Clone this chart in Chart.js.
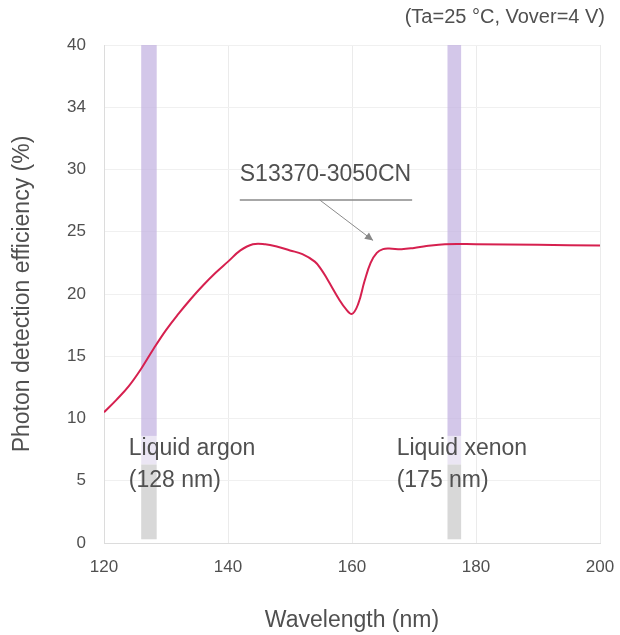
<!DOCTYPE html>
<html>
<head>
<meta charset="utf-8">
<script src="https://cdn.jsdelivr.net/npm/chart.js@4"></script>
<style>
  html, body { margin: 0; padding: 0; background: #fff; }
  #wrap { width: 620px; height: 635px; }
</style>
</head>
<body>
<div id="wrap"><canvas id="pdeChart" width="620" height="635"></canvas></div>
<script>
// wavelength (nm) and photon detection efficiency (%)
const wavelengths = [120, 122, 124, 126, 128, 130, 132, 134, 136, 138, 140, 142, 144, 146, 148, 150,
    152, 154, 155, 156, 158, 159, 160, 161, 162, 163, 164, 165, 166, 168, 170, 172, 175, 180, 190, 200];
const pdeValues = [10.5, 11.5, 12.6, 14.0, 15.6, 17.1, 18.4, 19.6, 20.7, 21.7, 22.6, 23.5, 24.0, 24.0, 23.8, 23.5,
    23.2, 22.6, 22.0, 21.2, 19.5, 18.8, 18.4, 19.2, 21.0, 22.5, 23.3, 23.6, 23.65, 23.6, 23.7, 23.85, 24.0, 24.0, 23.95, 23.9];

const yTickValues = [0, 5, 10, 15, 20, 25, 30, 35, 40];
const yTickLabels = ['0', '5', '10', '15', '20', '25', '30', '34', '40'];
const xTickValues = [120, 140, 160, 180, 200];

// scintillation bands: [from nm, to nm]
const bandRanges = [[126.0, 128.5], [175.4, 177.6]];
const bandLabels = [['Liquid argon', '(128 nm)'], ['Liquid xenon', '(175 nm)']];
const bandLabelX = [124, 167.2];
const bandLabelY = [7.6, 5.0];

const partName = 'S13370-3050CN';
const conditions = '(Ta=25 °C, Vover=4 V)';

const FONT = '"Liberation Sans", Arial, sans-serif';
const TEXT_COLOR = '#505050';

const decorations = {
    id: 'decorations',
    beforeDatasetsDraw(chart) {
        const { ctx, scales: { x, y } } = chart;
        ctx.save();
        bandRanges.forEach(r => {
            const x0 = x.getPixelForValue(r[0]);
            const x1 = x.getPixelForValue(r[1]);
            ctx.fillStyle = 'rgba(196,180,226,0.75)';
            ctx.fillRect(x0, y.getPixelForValue(40), x1 - x0, y.getPixelForValue(8.6) - y.getPixelForValue(40));
            ctx.fillStyle = 'rgba(222,214,236,0.6)';
            ctx.fillRect(x0, y.getPixelForValue(8.6), x1 - x0, y.getPixelForValue(6.3) - y.getPixelForValue(8.6));
            ctx.fillStyle = 'rgba(200,200,200,0.7)';
            ctx.fillRect(x0, y.getPixelForValue(6.3), x1 - x0, y.getPixelForValue(0.3) - y.getPixelForValue(6.3));
        });

        ctx.fillStyle = TEXT_COLOR;
        ctx.font = '23px ' + FONT;
        ctx.textBaseline = 'middle';
        ctx.textAlign = 'left';
        bandLabels.forEach((lines, i) => {
            ctx.fillText(lines[0], x.getPixelForValue(bandLabelX[i]), y.getPixelForValue(bandLabelY[0]));
            ctx.fillText(lines[1], x.getPixelForValue(bandLabelX[i]), y.getPixelForValue(bandLabelY[1]));
        });

        // part number with underline and leader
        ctx.font = '23px ' + FONT;
        ctx.fillText(partName, x.getPixelForValue(141.9), y.getPixelForValue(29.6));
        ctx.strokeStyle = '#8a8a8a';
        ctx.lineWidth = 1.5;
        ctx.beginPath();
        ctx.moveTo(x.getPixelForValue(141.9), y.getPixelForValue(27.55));
        ctx.lineTo(x.getPixelForValue(169.7), y.getPixelForValue(27.55));
        ctx.stroke();

        const ax0 = x.getPixelForValue(154.8), ay0 = y.getPixelForValue(27.55);
        const ax1 = x.getPixelForValue(163.4), ay1 = y.getPixelForValue(24.3);
        ctx.lineWidth = 1;
        ctx.beginPath();
        ctx.moveTo(ax0, ay0);
        ctx.lineTo(ax1, ay1);
        ctx.stroke();
        const ang = Math.atan2(ay1 - ay0, ax1 - ax0);
        ctx.fillStyle = '#888';
        ctx.beginPath();
        ctx.moveTo(ax1, ay1);
        ctx.lineTo(ax1 - 9 * Math.cos(ang - 0.45), ay1 - 9 * Math.sin(ang - 0.45));
        ctx.lineTo(ax1 - 9 * Math.cos(ang + 0.45), ay1 - 9 * Math.sin(ang + 0.45));
        ctx.closePath();
        ctx.fill();
        ctx.restore();
    },
    afterDraw(chart) {
        const ctx = chart.ctx;
        ctx.save();
        ctx.fillStyle = TEXT_COLOR;
        ctx.font = '20px ' + FONT;
        ctx.textAlign = 'right';
        ctx.textBaseline = 'middle';
        ctx.fillText(conditions, 605, 17);
        ctx.restore();
    }
};

const ctx = document.getElementById('pdeChart').getContext('2d');
new Chart(ctx, {
    type: 'line',
    data: {
        datasets: [{
            data: wavelengths.map((w, i) => ({ x: w, y: pdeValues[i] })),
            borderColor: '#d6204f',
            borderWidth: 2,
            pointRadius: 0,
            tension: 0.4,
            fill: false,
        }]
    },
    options: {
        responsive: false,
        animation: false,
        layout: { padding: { top: 45, right: 20, left: 0, bottom: 0 } },
        plugins: { legend: { display: false }, tooltip: { enabled: false } },
        scales: {
            x: {
                type: 'linear',
                min: 120, max: 200,
                afterBuildTicks: s => { s.ticks = xTickValues.map(v => ({ value: v })); },
                afterFit: s => { s.height = 92; s.paddingRight = 0; s.paddingLeft = 0; },
                grid: { color: '#ebebeb', drawTicks: false },
                border: { color: '#dcdcdc' },
                ticks: { color: TEXT_COLOR, padding: 14, font: { size: 17, family: FONT } },
                title: {
                    display: true, text: 'Wavelength (nm)', color: TEXT_COLOR,
                    font: { size: 23, family: FONT }, padding: { top: 0, bottom: 1 }
                }
            },
            y: {
                min: 0, max: 40,
                afterBuildTicks: s => { s.ticks = yTickValues.map(v => ({ value: v })); },
                afterFit: s => { s.width = 104; },
                grid: { color: '#f0f0f0', drawTicks: false },
                border: { color: '#dcdcdc' },
                ticks: {
                    color: TEXT_COLOR, padding: 18, font: { size: 17, family: FONT },
                    callback: v => yTickLabels[yTickValues.indexOf(v)]
                },
                title: {
                    display: true, text: 'Photon detection efficiency (%)', color: TEXT_COLOR,
                    font: { size: 23, family: FONT }, padding: { top: 9, bottom: 0 }
                }
            }
        }
    },
    plugins: [decorations]
});
</script>
</body>
</html>
